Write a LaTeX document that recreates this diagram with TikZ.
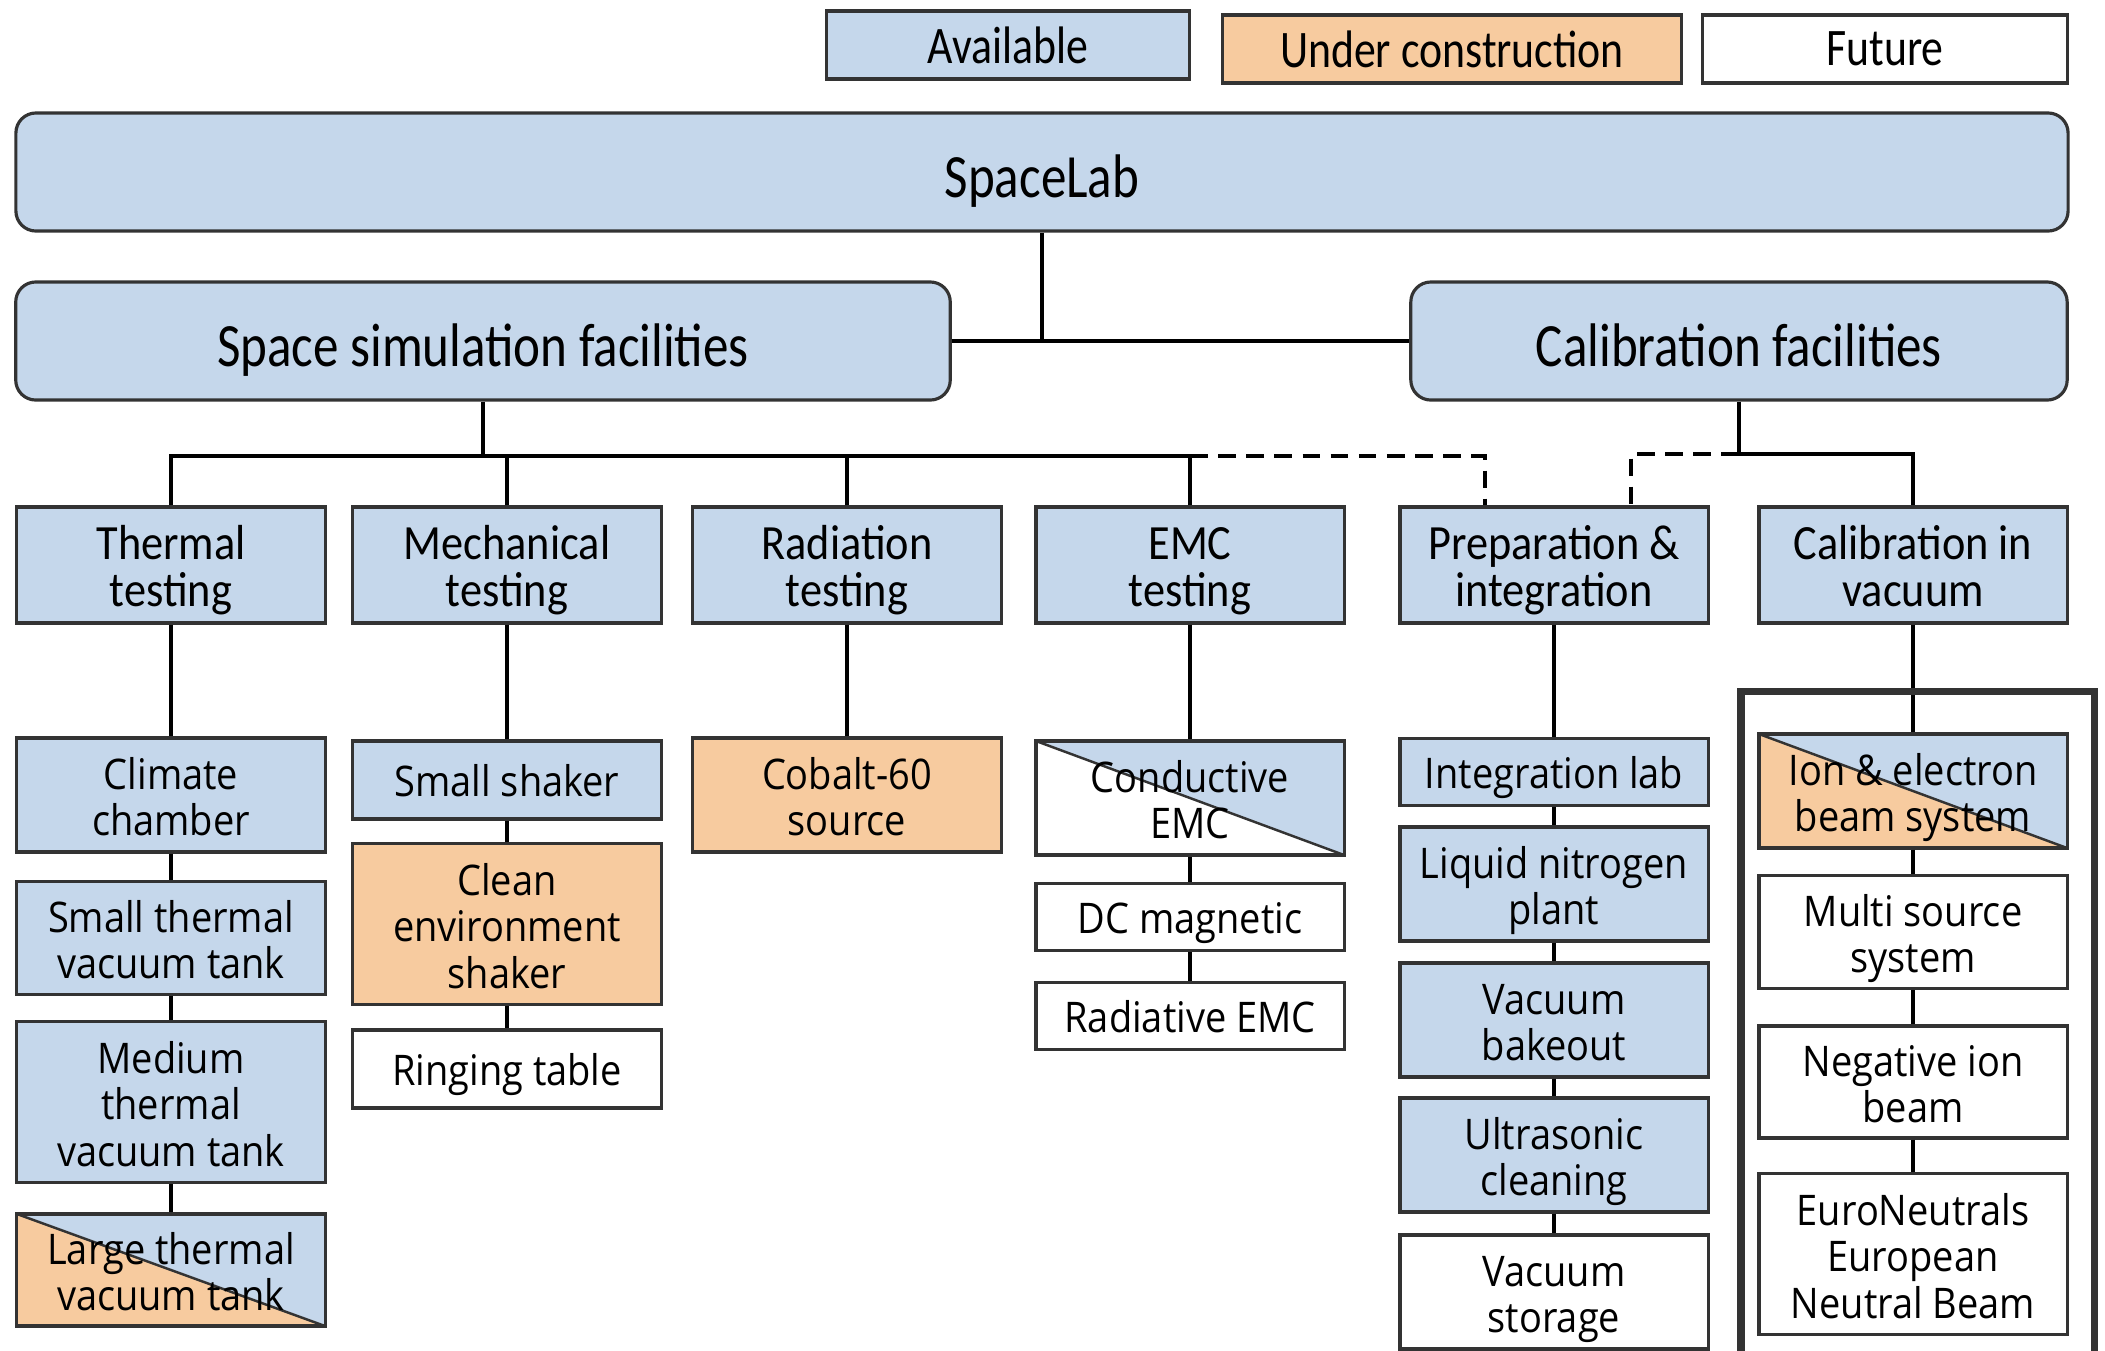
\documentclass[tikz,border=0pt]{standalone}
\usepackage{fontspec}
\newfontfamily\hdfont[FakeStretch=0.83]{Carlito}
\newfontfamily\lvfont[FakeStretch=0.9]{Carlito}
\newfontfamily\bxfont[FakeStretch=0.9]{Open Sans}
\usetikzlibrary{positioning}
\definecolor{availblue}{HTML}{C5D7EB}
\definecolor{constr}{HTML}{F7CB9F}

\tikzset{
	box/.style={draw=black!80, line width=0.9pt, minimum width=3.08cm, inner sep=0pt, align=center, text depth=0pt, font=\bxfont\fontsize{12}{13.2}\selectfont},
	l1/.style={text height=9.4pt},
	l2/.style={text height=23.2pt},
	l3/.style={text height=36.4pt},
	avail/.style={box, fill=availblue},
	ucon/.style={box, fill=constr},
	future/.style={box, fill=white},
	halfbox/.style={box, fill=availblue, path picture={
		\fill[#1] (path picture bounding box.north west) -- (path picture bounding box.south east) -- (path picture bounding box.south west) -- cycle;
		\draw[line width=0.7pt] (path picture bounding box.north west) -- (path picture bounding box.south east);}},
	area/.style={avail, minimum height=1.16cm, text height=23.5pt, font=\lvfont\fontsize{14}{13.3}\selectfont},
	head/.style={draw=black!80, line width=0.9pt, fill=availblue, rounded corners=0.2cm, minimum height=1.18cm, text height=14.5pt, text depth=0pt, font=\hdfont\fontsize{17.5}{20}\selectfont},
	legend/.style={draw=black!80, line width=0.9pt, minimum height=0.68cm, font=\hdfont\fontsize{15}{18}\selectfont},
	link/.style={line width=1pt},
	opt/.style={line width=1pt, dash pattern=on 5pt off 3pt}
}

\begin{document}
\begin{tikzpicture}[x=0.01cm, y=-0.01cm]
	\useasboundingbox (0,0) rectangle (2105,1350);
	
	% Column positions
	\def\xth{171}
	\def\xme{507}
	\def\xra{847}
	\def\xem{1190}
	\def\xpr{1554}
	\def\xca{1913}
	
	% --- LEGEND ---
	\node[legend, fill=availblue, minimum width=3.62cm] (lgavail) at (1008,45) {Available};
	\node[legend, fill=constr, minimum width=4.59cm] (lgucon) at (1452,49) {Under construction};
	\node[legend, fill=white, minimum width=3.65cm] (lgfut) at (1885,49) {Future};
	
	% --- HEADERS ---
	\node[head, minimum width=20.51cm] (spacelab) at (1042,172) {SpaceLab};
	\node[head, minimum width=9.34cm] (simfac) at (483,341) {Space simulation facilities};
	\node[head, minimum width=6.56cm] (calfac) at (1739,341) {Calibration facilities};
	
	% --- SECOND LEVEL ---
	\node[area] (thermal) at (\xth,565) {Thermal\\testing};
	\node[area] (mech) at (\xme,565) {Mechanical\\testing};
	\node[area] (rad) at (\xra,565) {Radiation\\testing};
	\node[area] (emc) at (\xem,565) {EMC\\testing};
	\node[area] (prep) at (\xpr,565) {Preparation \&\\integration};
	\node[area] (calvac) at (\xca,565) {Calibration in\\vacuum};
	
	% Thermal column
	\node[avail, l2, minimum height=1.14cm] (climate) at (\xth,795) {Climate\\chamber};
	\node[avail, l2, minimum height=1.13cm] (smalltv) at (\xth,938) {Small thermal\\vacuum tank};
	\node[avail, l3, minimum height=1.61cm] (medtv) at (\xth,1102) {Medium\\thermal\\vacuum tank};
	\node[halfbox=constr, l2, minimum height=1.12cm] (largetv) at (\xth,1270) {Large thermal\\vacuum tank};
	
	% Mechanical column
	\node[avail, l1, minimum height=0.78cm] (smallsh) at (\xme,780) {Small shaker};
	\node[ucon, l3, minimum height=1.61cm] (cleansh) at (\xme,924) {Clean\\environment\\shaker};
	\node[future, l1, minimum height=0.78cm] (ringing) at (\xme,1069) {Ringing table};
	
	% Radiation column
	\node[ucon, l2, minimum height=1.14cm] (cobalt) at (\xra,795) {Cobalt-60\\source};
	
	% EMC column
	\node[halfbox=white, l2, minimum height=1.14cm] (cond) at (\xem,798) {Conductive\\EMC};
	\node[future, l1, minimum height=0.67cm] (dcmag) at (\xem,917) {DC magnetic};
	\node[future, l1, minimum height=0.67cm] (rademc) at (\xem,1016) {Radiative EMC};
	
	% Preparation column
	\node[avail, l1, minimum height=0.67cm] (intlab) at (\xpr,772) {Integration lab};
	\node[avail, l2, minimum height=1.14cm] (nitro) at (\xpr,884) {Liquid nitrogen\\plant};
	\node[avail, l2, minimum height=1.14cm] (bakeout) at (\xpr,1020) {Vacuum\\bakeout};
	\node[avail, l2, minimum height=1.14cm] (ultra) at (\xpr,1155) {Ultrasonic\\cleaning};
	\node[future, l2, minimum height=1.14cm] (storage) at (\xpr,1292) {Vacuum\\storage};
	
	% Calibration column
	\node[halfbox=constr, l2, minimum height=1.14cm] (ionbeam) at (\xca,791) {Ion \& electron\\beam system};
	\node[future, l2, minimum height=1.13cm] (multi) at (\xca,932) {Multi source\\system};
	\node[future, l2, minimum height=1.12cm] (negion) at (\xca,1082) {Negative ion\\beam};
	\node[future, l3, minimum height=1.61cm] (euron) at (\xca,1254) {EuroNeutrals\\European\\Neutral Beam};
	
	% --- CONNECTORS ---
	\coordinate (simbus) at (483,456);
	\coordinate (calbus) at (1739,454);
	\draw[link] (spacelab.south) -- (spacelab.south |- simfac.east);
	\draw[link] (simfac.east) -- (calfac.west);
	\draw[link] (simfac.south) -- (simbus);
	\draw[link] (thermal.north) |- (emc.north |- simbus) -- (emc.north);
	\draw[link] (mech.north) -- (mech.north |- simbus);
	\draw[link] (rad.north) -- (rad.north |- simbus);
	\draw[opt] (emc.north |- simbus) -| ([xshift=-0.69cm]prep.north);
	\draw[link] (calfac.south) -- (calbus) -| (calvac.north);
	\draw[opt] (calbus) -| ([xshift=0.77cm]prep.north);
	
	\draw[link] (thermal) -- (climate) -- (smalltv) -- (medtv) -- (largetv);
	\draw[link] (mech) -- (smallsh) -- (cleansh) -- (ringing);
	\draw[link] (rad) -- (cobalt);
	\draw[link] (emc) -- (cond) -- (dcmag) -- (rademc);
	\draw[link] (prep) -- (intlab) -- (nitro) -- (bakeout) -- (ultra) -- (storage);
	\draw[link] (calvac) -- (ionbeam) -- (multi) -- (negion) -- (euron);
	
	% Frame round the beam facilities
	\draw[line width=2pt, draw=black!80] (1741,1360) -- (1741,691) -- (2094,691) -- (2094,1360);
\end{tikzpicture}
\end{document}
